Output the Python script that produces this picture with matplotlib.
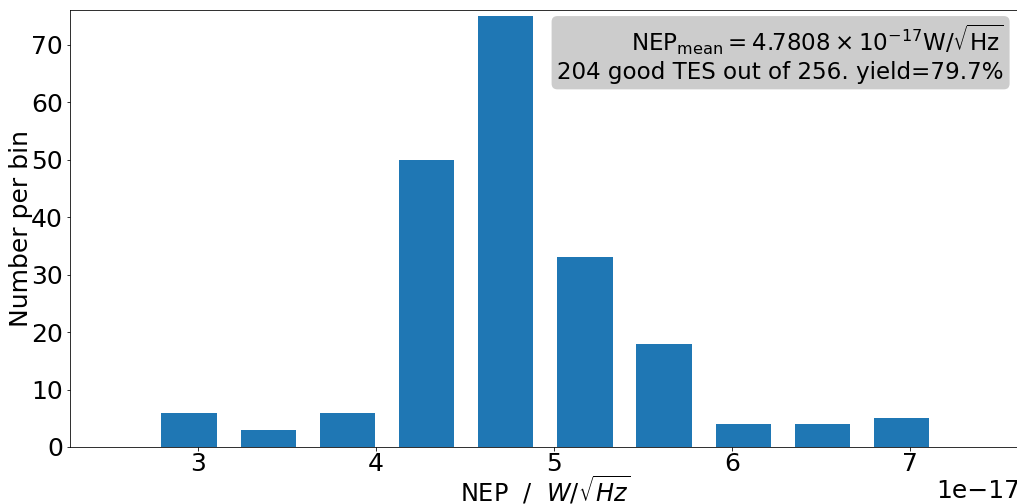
import numpy as np
import matplotlib
matplotlib.use('Agg')
import matplotlib.pyplot as plt

# NEP histogram of the good TES
bin_edges = [2.727, 3.172, 3.617, 4.062, 4.507, 4.952, 5.397, 5.842, 6.287, 6.732, 7.177]
counts = [6, 3, 6, 50, 75, 33, 18, 4, 4, 5]
nep_mean = 4.7808
n_good = 204
n_total = 256

edges = np.array(bin_edges) * 1e-17
centers = 0.5 * (edges[1:] + edges[:-1])

plt.rcParams['font.size'] = 25

fig = plt.figure(figsize=(1017/72, 504/72), dpi=72)
ax = fig.add_axes([70/1017, 57/504, 950/1017, 436.5/504])

ax.hist(centers, bins=edges, weights=counts, rwidth=0.7, color='#1f77b4')

ax.set_xlim(2.28e-17, 7.62e-17)
ax.set_ylim(0, 76)
ax.tick_params(axis='x', pad=1.5)
ax.set_xlabel(r'NEP  /  $W/\sqrt{Hz}$', fontsize=24, labelpad=-1.5)
ax.set_ylabel('Number per bin', fontsize=25, labelpad=-2)

txt = (r'$\mathrm{NEP_{mean}} = %.4f\times10^{-17}$W/$\sqrt{\mathrm{Hz}}$' % nep_mean
       + '\n' + '%d good TES out of %d. yield=%.1f%%' % (n_good, n_total, 100.0 * n_good / n_total))
ax.text(0.983, 0.972, txt, transform=ax.transAxes, ha='right', va='top',
        fontsize=23, multialignment='right',
        bbox=dict(boxstyle='round,pad=0.25', facecolor='#cccccc', edgecolor='none'))

fig.savefig('out.png', dpi=72)
